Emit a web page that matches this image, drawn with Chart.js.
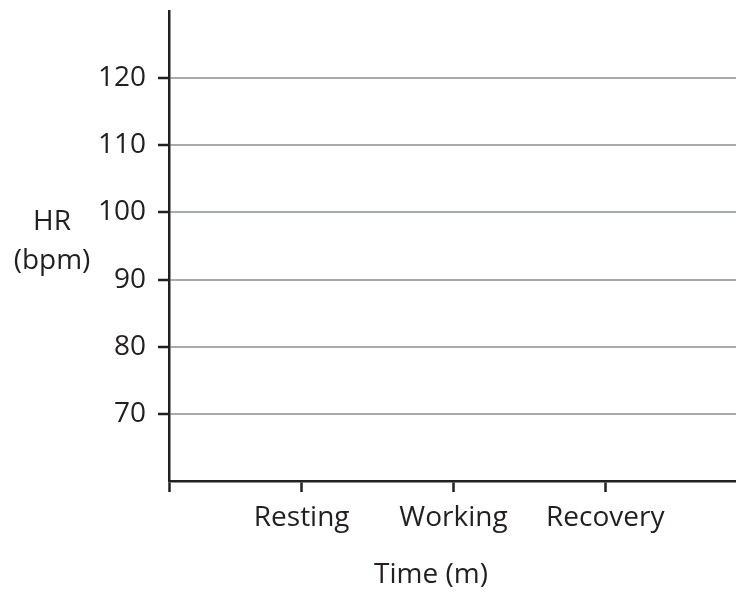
<!DOCTYPE html>
<html>
<head>
<meta charset="utf-8">
<title>HR over time</title>
<script src="https://cdn.jsdelivr.net/npm/chart.js@4.4.1/dist/chart.umd.min.js"></script>
<style>
    html, body { margin: 0; padding: 0; background: #ffffff; }
    #wrap { width: 736px; height: 593px; position: relative; }
</style>
</head>
<body>
<div id="wrap"><canvas id="hrChart"></canvas></div>
<script>
// Chart data
const categories = ['Resting', 'Working', 'Recovery'];
const yTicks = [70, 80, 90, 100, 110, 120];
const yMin = 60;
const yMax = 130;
const xMin = 0.126;
const xMax = 3.861;
const yTitleLines = ['HR', '(bpm)'];
const xTitle = 'Time (m)';

const ink = '#231f20';
const gridGrey = '#a7a9ac';
const font = { family: '"Open Sans", sans-serif', size: 28 };

// Draw the (unrotated) axis titles
const axisTitles = {
    id: 'axisTitles',
    afterDraw(chart) {
        const ctx = chart.ctx;
        ctx.save();
        ctx.fillStyle = ink;
        ctx.font = `${font.size}px ${font.family}`;
        ctx.textAlign = 'center';
        ctx.textBaseline = 'middle';
        ctx.fillText(yTitleLines[0], 52, 222);
        ctx.fillText(yTitleLines[1], 52, 261);
        ctx.fillText(xTitle, 431, 575);
        ctx.restore();
    }
};

const ctx = document.getElementById('hrChart').getContext('2d');
const hrChart = new Chart(ctx, {
    type: 'line',
    data: { datasets: [] },
    options: {
        responsive: true,
        maintainAspectRatio: false,
        animation: false,
        layout: { padding: { top: 11, right: 0, bottom: 0, left: 0 } },
        plugins: {
            legend: { display: false },
            tooltip: { enabled: false }
        },
        scales: {
            x: {
                type: 'linear',
                min: xMin,
                max: xMax,
                afterBuildTicks: scale => {
                    scale.ticks = [{ value: xMin }].concat(categories.map((c, i) => ({ value: i + 1 })));
                },
                afterFit: scale => {
                    scale.height = 112;
                    scale.paddingLeft = 0;
                    scale.paddingRight = 0;
                },
                grid: {
                    drawOnChartArea: false,
                    tickColor: ink,
                    tickLength: 11,
                    tickWidth: 2.5
                },
                border: { color: ink, width: 2.5 },
                ticks: {
                    color: ink,
                    font: font,
                    padding: 9,
                    maxRotation: 0,
                    autoSkip: false,
                    callback: value => Number.isInteger(value) ? categories[value - 1] : ''
                }
            },
            y: {
                min: yMin,
                max: yMax,
                afterBuildTicks: scale => {
                    scale.ticks = yTicks.map(v => ({ value: v }));
                },
                afterFit: scale => {
                    scale.width = 169;
                    scale.paddingTop = 0;
                    scale.paddingBottom = 0;
                },
                grid: {
                    color: gridGrey,
                    lineWidth: 2,
                    tickColor: ink,
                    tickLength: 11,
                    tickWidth: 2.5
                },
                border: { color: ink, width: 2.5 },
                ticks: {
                    color: ink,
                    font: font,
                    padding: 12
                }
            }
        }
    },
    plugins: [axisTitles]
});
</script>
</body>
</html>
